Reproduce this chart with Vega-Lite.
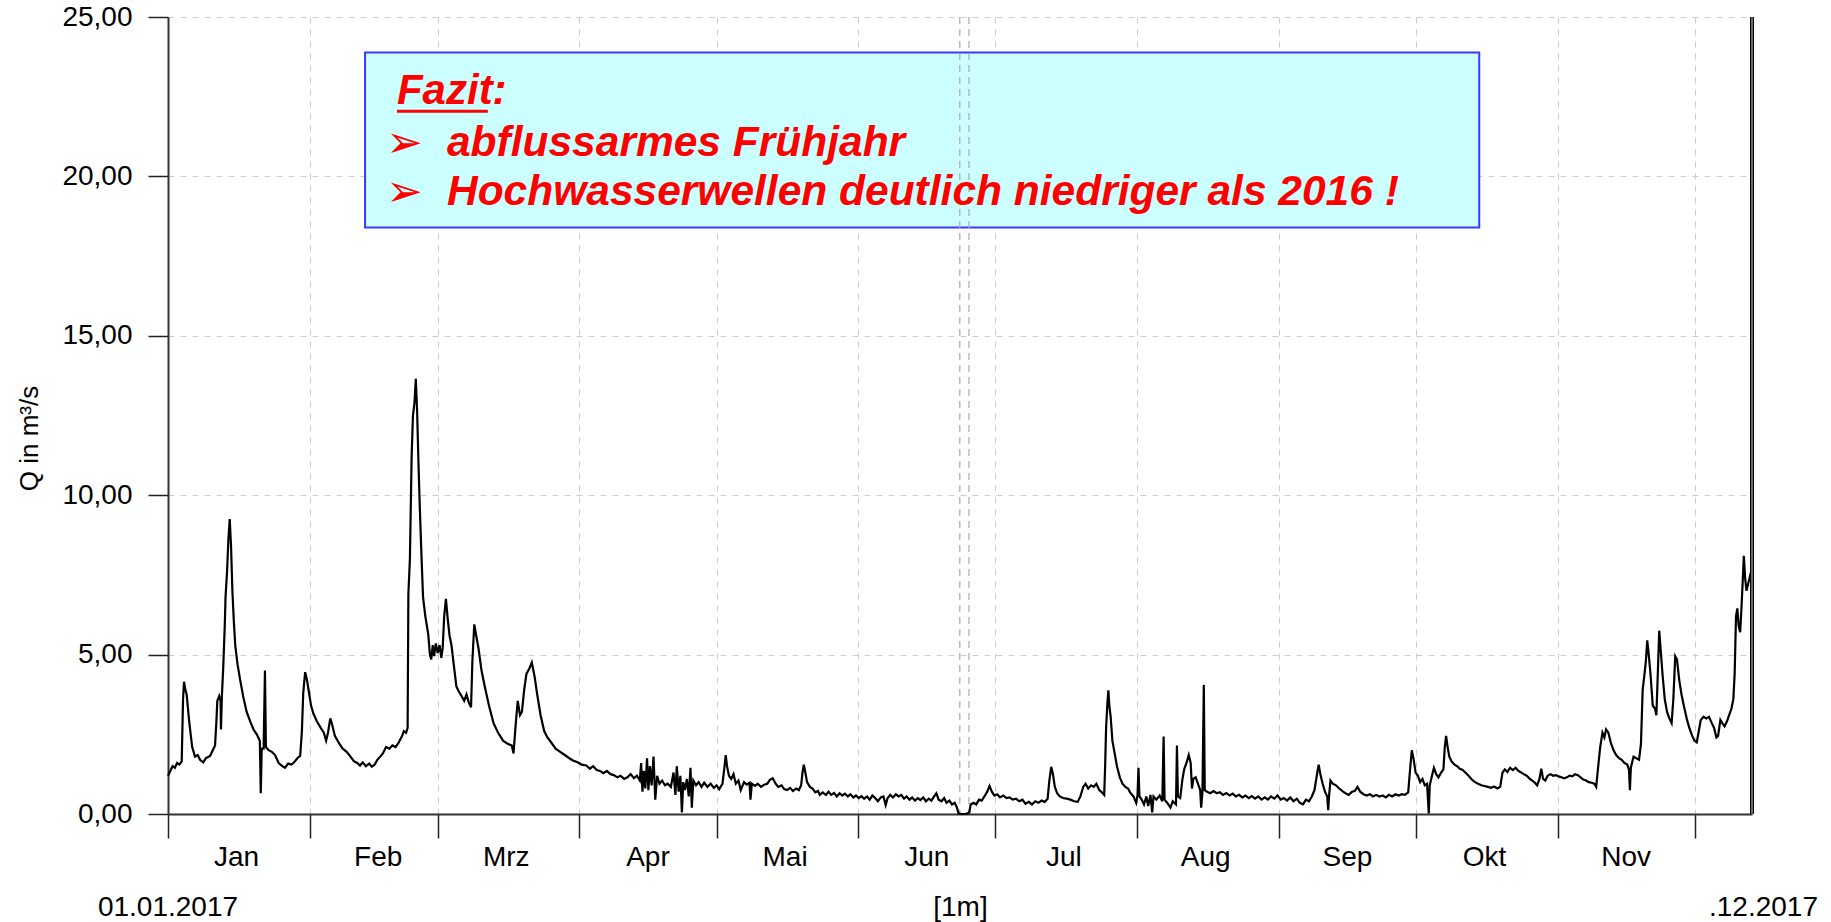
{
  "$schema": "https://vega.github.io/schema/vega-lite/v6.json",
  "width": 1584,
  "height": 797,
  "autosize": {"type": "none"},
  "padding": {"left": 168, "top": 17, "right": 79, "bottom": 108},
  "background": "white",
  "config": {"view": {"stroke": null}, "font": "Liberation Sans"},
  "datasets": {
    "q": [
      {"t":"2017-01-01T00:00","q":1.2},{"t":"2017-01-01T12:00","q":1.35},{"t":"2017-01-02T00:00","q":1.5},{"t":"2017-01-02T12:00","q":1.45},{"t":"2017-01-03T00:00","q":1.6},{"t":"2017-01-03T12:00","q":1.55},{"t":"2017-01-04T00:00","q":1.65},{"t":"2017-01-04T07:00","q":3.6},{"t":"2017-01-04T12:00","q":4.15},{"t":"2017-01-04T19:00","q":3.9},{"t":"2017-01-05T02:00","q":3.75},{"t":"2017-01-05T12:00","q":3.1},{"t":"2017-01-05T19:00","q":2.7},{"t":"2017-01-06T07:00","q":2.1},{"t":"2017-01-06T22:00","q":1.8},{"t":"2017-01-07T12:00","q":1.85},{"t":"2017-01-08T00:00","q":1.7},{"t":"2017-01-08T17:00","q":1.62},{"t":"2017-01-09T07:00","q":1.75},{"t":"2017-01-10T05:00","q":1.82},{"t":"2017-01-10T19:00","q":2.0},{"t":"2017-01-11T07:00","q":2.15},{"t":"2017-01-11T14:00","q":2.9},{"t":"2017-01-11T19:00","q":3.55},{"t":"2017-01-12T05:00","q":3.7},{"t":"2017-01-12T12:00","q":3.55},{"t":"2017-01-12T14:00","q":2.65},{"t":"2017-01-12T19:00","q":3.7},{"t":"2017-01-13T02:00","q":4.6},{"t":"2017-01-13T10:00","q":5.9},{"t":"2017-01-13T14:00","q":6.8},{"t":"2017-01-13T22:00","q":7.6},{"t":"2017-01-14T05:00","q":8.6},{"t":"2017-01-14T12:00","q":9.25},{"t":"2017-01-14T19:00","q":8.4},{"t":"2017-01-15T02:00","q":7.0},{"t":"2017-01-15T10:00","q":6.0},{"t":"2017-01-15T17:00","q":5.3},{"t":"2017-01-16T05:00","q":4.7},{"t":"2017-01-16T19:00","q":4.2},{"t":"2017-01-17T12:00","q":3.65},{"t":"2017-01-18T05:00","q":3.2},{"t":"2017-01-19T00:00","q":2.9},{"t":"2017-01-19T17:00","q":2.65},{"t":"2017-01-20T10:00","q":2.5},{"t":"2017-01-21T02:00","q":2.3},{"t":"2017-01-21T07:00","q":0.65},{"t":"2017-01-21T12:00","q":2.05},{"t":"2017-01-21T22:00","q":2.05},{"t":"2017-01-22T05:00","q":4.5},{"t":"2017-01-22T10:00","q":2.1},{"t":"2017-01-23T00:00","q":2.0},{"t":"2017-01-23T17:00","q":1.95},{"t":"2017-01-24T10:00","q":1.85},{"t":"2017-01-25T05:00","q":1.6},{"t":"2017-01-26T00:00","q":1.5},{"t":"2017-01-26T14:00","q":1.45},{"t":"2017-01-27T07:00","q":1.58},{"t":"2017-01-28T00:00","q":1.55},{"t":"2017-01-28T14:00","q":1.62},{"t":"2017-01-29T07:00","q":1.75},{"t":"2017-01-29T22:00","q":1.82},{"t":"2017-01-30T07:00","q":2.6},{"t":"2017-01-30T14:00","q":3.8},{"t":"2017-01-31T00:00","q":4.45},{"t":"2017-01-31T10:00","q":4.2},{"t":"2017-01-31T19:00","q":3.85},
      {"t":"2017-02-01T07:00","q":3.4},{"t":"2017-02-01T19:00","q":3.15},{"t":"2017-02-02T14:00","q":2.9},{"t":"2017-02-03T10:00","q":2.7},{"t":"2017-02-04T02:00","q":2.55},{"t":"2017-02-04T14:00","q":2.3},{"t":"2017-02-05T00:00","q":2.55},{"t":"2017-02-05T12:00","q":3.0},{"t":"2017-02-05T22:00","q":2.8},{"t":"2017-02-06T12:00","q":2.45},{"t":"2017-02-07T07:00","q":2.25},{"t":"2017-02-08T05:00","q":2.05},{"t":"2017-02-09T02:00","q":1.95},{"t":"2017-02-09T22:00","q":1.8},{"t":"2017-02-10T17:00","q":1.65},{"t":"2017-02-11T10:00","q":1.6},{"t":"2017-02-12T00:00","q":1.52},{"t":"2017-02-12T14:00","q":1.62},{"t":"2017-02-13T07:00","q":1.5},{"t":"2017-02-14T00:00","q":1.58},{"t":"2017-02-14T14:00","q":1.48},{"t":"2017-02-15T05:00","q":1.55},{"t":"2017-02-15T19:00","q":1.7},{"t":"2017-02-16T10:00","q":1.8},{"t":"2017-02-17T00:00","q":1.9},{"t":"2017-02-17T17:00","q":2.1},{"t":"2017-02-18T10:00","q":2.05},{"t":"2017-02-19T02:00","q":2.15},{"t":"2017-02-19T19:00","q":2.1},{"t":"2017-02-20T12:00","q":2.25},{"t":"2017-02-21T05:00","q":2.45},{"t":"2017-02-21T14:00","q":2.6},{"t":"2017-02-22T02:00","q":2.55},{"t":"2017-02-22T10:00","q":2.7},{"t":"2017-02-22T14:00","q":6.9},{"t":"2017-02-22T22:00","q":8.0},{"t":"2017-02-23T07:00","q":11.2},{"t":"2017-02-23T14:00","q":12.5},{"t":"2017-02-23T22:00","q":12.9},{"t":"2017-02-24T05:00","q":13.65},{"t":"2017-02-24T12:00","q":12.6},{"t":"2017-02-24T19:00","q":11.0},{"t":"2017-02-25T02:00","q":9.6},{"t":"2017-02-25T12:00","q":7.9},{"t":"2017-02-25T19:00","q":6.8},{"t":"2017-02-26T07:00","q":6.2},{"t":"2017-02-26T22:00","q":5.65},{"t":"2017-02-27T07:00","q":5.0},{"t":"2017-02-27T14:00","q":4.85},{"t":"2017-02-27T22:00","q":5.3},{"t":"2017-02-28T05:00","q":4.95},{"t":"2017-02-28T14:00","q":5.35},
      {"t":"2017-03-01T00:00","q":5.05},{"t":"2017-03-01T10:00","q":5.3},{"t":"2017-03-01T19:00","q":4.9},{"t":"2017-03-02T02:00","q":5.2},{"t":"2017-03-02T10:00","q":6.2},{"t":"2017-03-02T19:00","q":6.75},{"t":"2017-03-03T05:00","q":6.1},{"t":"2017-03-03T14:00","q":5.6},{"t":"2017-03-04T00:00","q":5.3},{"t":"2017-03-04T14:00","q":4.6},{"t":"2017-03-05T02:00","q":4.0},{"t":"2017-03-05T14:00","q":3.85},{"t":"2017-03-06T05:00","q":3.7},{"t":"2017-03-06T19:00","q":3.55},{"t":"2017-03-07T07:00","q":3.75},{"t":"2017-03-07T19:00","q":3.5},{"t":"2017-03-08T07:00","q":3.35},{"t":"2017-03-08T14:00","q":4.8},{"t":"2017-03-09T00:00","q":5.95},{"t":"2017-03-09T10:00","q":5.6},{"t":"2017-03-09T22:00","q":5.2},{"t":"2017-03-10T14:00","q":4.5},{"t":"2017-03-11T07:00","q":4.0},{"t":"2017-03-12T05:00","q":3.4},{"t":"2017-03-13T05:00","q":2.85},{"t":"2017-03-14T05:00","q":2.55},{"t":"2017-03-15T07:00","q":2.3},{"t":"2017-03-16T07:00","q":2.2},{"t":"2017-03-17T05:00","q":2.15},{"t":"2017-03-17T14:00","q":1.9},{"t":"2017-03-18T00:00","q":2.7},{"t":"2017-03-18T12:00","q":3.55},{"t":"2017-03-19T00:00","q":3.1},{"t":"2017-03-19T10:00","q":3.2},{"t":"2017-03-19T22:00","q":3.9},{"t":"2017-03-20T10:00","q":4.4},{"t":"2017-03-21T00:00","q":4.55},{"t":"2017-03-21T14:00","q":4.75},{"t":"2017-03-22T05:00","q":4.3},{"t":"2017-03-22T17:00","q":3.8},{"t":"2017-03-23T12:00","q":3.1},{"t":"2017-03-24T07:00","q":2.6},{"t":"2017-03-25T00:00","q":2.4},{"t":"2017-03-25T19:00","q":2.25},{"t":"2017-03-26T19:00","q":2.05},{"t":"2017-03-27T19:00","q":1.95},{"t":"2017-03-28T19:00","q":1.85},{"t":"2017-03-29T19:00","q":1.75},{"t":"2017-03-30T14:00","q":1.68},{"t":"2017-03-31T14:00","q":1.62},
      {"t":"2017-04-01T12:00","q":1.55},{"t":"2017-04-02T12:00","q":1.52},{"t":"2017-04-03T07:00","q":1.42},{"t":"2017-04-04T00:00","q":1.5},{"t":"2017-04-04T19:00","q":1.38},{"t":"2017-04-05T12:00","q":1.35},{"t":"2017-04-06T05:00","q":1.28},{"t":"2017-04-07T00:00","q":1.35},{"t":"2017-04-07T19:00","q":1.25},{"t":"2017-04-08T12:00","q":1.22},{"t":"2017-04-09T07:00","q":1.15},{"t":"2017-04-10T00:00","q":1.2},{"t":"2017-04-10T19:00","q":1.1},{"t":"2017-04-11T12:00","q":1.15},{"t":"2017-04-12T05:00","q":1.25},{"t":"2017-04-12T22:00","q":1.12},{"t":"2017-04-13T14:00","q":1.2},{"t":"2017-04-14T05:00","q":1.05},{"t":"2017-04-14T12:00","q":1.6},{"t":"2017-04-14T19:00","q":0.7},{"t":"2017-04-15T02:00","q":1.35},{"t":"2017-04-15T10:00","q":0.8},{"t":"2017-04-15T19:00","q":1.75},{"t":"2017-04-16T02:00","q":0.75},{"t":"2017-04-16T10:00","q":1.5},{"t":"2017-04-16T19:00","q":0.9},{"t":"2017-04-17T05:00","q":1.8},{"t":"2017-04-17T14:00","q":0.45},{"t":"2017-04-18T00:00","q":1.2},{"t":"2017-04-18T12:00","q":0.95},{"t":"2017-04-19T02:00","q":1.05},{"t":"2017-04-19T17:00","q":0.9},{"t":"2017-04-20T07:00","q":0.95},{"t":"2017-04-21T00:00","q":0.85},{"t":"2017-04-21T14:00","q":1.3},{"t":"2017-04-22T00:00","q":0.6},{"t":"2017-04-22T07:00","q":1.5},{"t":"2017-04-22T17:00","q":0.7},{"t":"2017-04-23T02:00","q":1.2},{"t":"2017-04-23T10:00","q":0.05},{"t":"2017-04-23T17:00","q":1.0},{"t":"2017-04-24T02:00","q":0.75},{"t":"2017-04-24T12:00","q":1.1},{"t":"2017-04-24T22:00","q":0.55},{"t":"2017-04-25T07:00","q":1.45},{"t":"2017-04-25T14:00","q":0.2},{"t":"2017-04-25T22:00","q":1.05},{"t":"2017-04-26T12:00","q":0.9},{"t":"2017-04-27T02:00","q":1.0},{"t":"2017-04-27T17:00","q":0.85},{"t":"2017-04-28T07:00","q":0.98},{"t":"2017-04-29T00:00","q":0.85},{"t":"2017-04-29T17:00","q":0.95},{"t":"2017-04-30T10:00","q":0.82},
      {"t":"2017-05-01T00:00","q":0.9},{"t":"2017-05-01T14:00","q":0.78},{"t":"2017-05-02T07:00","q":0.95},{"t":"2017-05-02T17:00","q":1.45},{"t":"2017-05-03T00:00","q":1.85},{"t":"2017-05-03T07:00","q":1.5},{"t":"2017-05-03T17:00","q":1.2},{"t":"2017-05-04T05:00","q":1.1},{"t":"2017-05-04T17:00","q":1.25},{"t":"2017-05-05T05:00","q":0.95},{"t":"2017-05-05T19:00","q":1.05},{"t":"2017-05-06T07:00","q":0.75},{"t":"2017-05-07T00:00","q":1.0},{"t":"2017-05-07T14:00","q":0.92},{"t":"2017-05-08T05:00","q":0.98},{"t":"2017-05-08T10:00","q":0.45},{"t":"2017-05-08T17:00","q":0.95},{"t":"2017-05-09T10:00","q":0.88},{"t":"2017-05-10T00:00","q":0.95},{"t":"2017-05-10T17:00","q":0.85},{"t":"2017-05-11T10:00","q":0.92},{"t":"2017-05-12T02:00","q":0.95},{"t":"2017-05-12T17:00","q":1.08},{"t":"2017-05-13T07:00","q":1.12},{"t":"2017-05-13T22:00","q":0.95},{"t":"2017-05-14T12:00","q":0.85},{"t":"2017-05-15T05:00","q":0.9},{"t":"2017-05-15T19:00","q":0.78},{"t":"2017-05-16T10:00","q":0.75},{"t":"2017-05-17T02:00","q":0.82},{"t":"2017-05-17T17:00","q":0.72},{"t":"2017-05-18T10:00","q":0.8},{"t":"2017-05-19T00:00","q":0.75},{"t":"2017-05-19T12:00","q":0.9},{"t":"2017-05-19T19:00","q":1.3},{"t":"2017-05-20T02:00","q":1.55},{"t":"2017-05-20T10:00","q":1.3},{"t":"2017-05-20T19:00","q":1.0},{"t":"2017-05-21T10:00","q":0.85},{"t":"2017-05-22T00:00","q":0.8},{"t":"2017-05-22T14:00","q":0.68},{"t":"2017-05-23T05:00","q":0.72},{"t":"2017-05-23T14:00","q":0.6},{"t":"2017-05-24T05:00","q":0.68},{"t":"2017-05-24T22:00","q":0.6},{"t":"2017-05-25T12:00","q":0.7},{"t":"2017-05-26T02:00","q":0.6},{"t":"2017-05-26T17:00","q":0.66},{"t":"2017-05-27T07:00","q":0.55},{"t":"2017-05-27T22:00","q":0.65},{"t":"2017-05-28T12:00","q":0.58},{"t":"2017-05-29T02:00","q":0.64},{"t":"2017-05-29T17:00","q":0.55},{"t":"2017-05-30T07:00","q":0.62},{"t":"2017-05-30T22:00","q":0.52},{"t":"2017-05-31T12:00","q":0.58},
      {"t":"2017-06-01T02:00","q":0.5},{"t":"2017-06-01T17:00","q":0.56},{"t":"2017-06-02T07:00","q":0.48},{"t":"2017-06-02T22:00","q":0.55},{"t":"2017-06-03T12:00","q":0.45},{"t":"2017-06-04T02:00","q":0.58},{"t":"2017-06-04T17:00","q":0.5},{"t":"2017-06-05T07:00","q":0.4},{"t":"2017-06-05T22:00","q":0.52},{"t":"2017-06-06T12:00","q":0.55},{"t":"2017-06-07T00:00","q":0.28},{"t":"2017-06-07T10:00","q":0.5},{"t":"2017-06-08T00:00","q":0.6},{"t":"2017-06-08T14:00","q":0.52},{"t":"2017-06-09T05:00","q":0.62},{"t":"2017-06-09T19:00","q":0.55},{"t":"2017-06-10T10:00","q":0.6},{"t":"2017-06-11T00:00","q":0.48},{"t":"2017-06-11T14:00","q":0.55},{"t":"2017-06-12T05:00","q":0.45},{"t":"2017-06-12T19:00","q":0.52},{"t":"2017-06-13T10:00","q":0.42},{"t":"2017-06-14T00:00","q":0.5},{"t":"2017-06-14T14:00","q":0.44},{"t":"2017-06-15T05:00","q":0.52},{"t":"2017-06-15T19:00","q":0.4},{"t":"2017-06-16T10:00","q":0.48},{"t":"2017-06-17T00:00","q":0.42},{"t":"2017-06-17T14:00","q":0.55},{"t":"2017-06-18T02:00","q":0.65},{"t":"2017-06-18T14:00","q":0.45},{"t":"2017-06-19T05:00","q":0.4},{"t":"2017-06-19T19:00","q":0.5},{"t":"2017-06-20T07:00","q":0.35},{"t":"2017-06-20T22:00","q":0.42},{"t":"2017-06-21T12:00","q":0.3},{"t":"2017-06-22T02:00","q":0.35},{"t":"2017-06-22T14:00","q":0.2},{"t":"2017-06-22T22:00","q":0.02},{"t":"2017-06-23T12:00","q":0.0},{"t":"2017-06-24T12:00","q":0.0},{"t":"2017-06-25T07:00","q":0.05},{"t":"2017-06-25T14:00","q":0.3},{"t":"2017-06-26T05:00","q":0.35},{"t":"2017-06-26T19:00","q":0.3},{"t":"2017-06-27T10:00","q":0.45},{"t":"2017-06-28T00:00","q":0.42},{"t":"2017-06-28T14:00","q":0.55},{"t":"2017-06-29T05:00","q":0.7},{"t":"2017-06-29T17:00","q":0.88},{"t":"2017-06-30T05:00","q":0.7},{"t":"2017-06-30T19:00","q":0.58},
      {"t":"2017-07-01T10:00","q":0.62},{"t":"2017-07-02T00:00","q":0.52},{"t":"2017-07-02T17:00","q":0.58},{"t":"2017-07-03T10:00","q":0.5},{"t":"2017-07-04T02:00","q":0.52},{"t":"2017-07-04T19:00","q":0.45},{"t":"2017-07-05T12:00","q":0.48},{"t":"2017-07-06T05:00","q":0.4},{"t":"2017-07-06T22:00","q":0.45},{"t":"2017-07-07T14:00","q":0.32},{"t":"2017-07-08T07:00","q":0.38},{"t":"2017-07-09T00:00","q":0.3},{"t":"2017-07-09T17:00","q":0.4},{"t":"2017-07-10T10:00","q":0.35},{"t":"2017-07-11T02:00","q":0.42},{"t":"2017-07-11T19:00","q":0.38},{"t":"2017-07-12T10:00","q":0.48},{"t":"2017-07-12T19:00","q":1.05},{"t":"2017-07-13T05:00","q":1.48},{"t":"2017-07-13T14:00","q":1.25},{"t":"2017-07-14T00:00","q":0.85},{"t":"2017-07-14T12:00","q":0.65},{"t":"2017-07-15T02:00","q":0.55},{"t":"2017-07-15T19:00","q":0.5},{"t":"2017-07-16T14:00","q":0.48},{"t":"2017-07-17T10:00","q":0.45},{"t":"2017-07-18T05:00","q":0.4},{"t":"2017-07-19T00:00","q":0.38},{"t":"2017-07-19T14:00","q":0.55},{"t":"2017-07-20T05:00","q":0.85},{"t":"2017-07-20T17:00","q":0.95},{"t":"2017-07-21T07:00","q":0.8},{"t":"2017-07-21T22:00","q":0.9},{"t":"2017-07-22T12:00","q":0.85},{"t":"2017-07-23T02:00","q":0.95},{"t":"2017-07-23T17:00","q":0.75},{"t":"2017-07-24T07:00","q":0.68},{"t":"2017-07-24T19:00","q":0.6},{"t":"2017-07-25T00:00","q":1.5},{"t":"2017-07-25T05:00","q":2.7},{"t":"2017-07-25T12:00","q":3.5},{"t":"2017-07-25T17:00","q":3.88},{"t":"2017-07-25T22:00","q":3.4},{"t":"2017-07-26T05:00","q":3.05},{"t":"2017-07-26T14:00","q":2.3},{"t":"2017-07-27T02:00","q":1.9},{"t":"2017-07-27T14:00","q":1.5},{"t":"2017-07-28T05:00","q":1.15},{"t":"2017-07-28T19:00","q":0.95},{"t":"2017-07-29T10:00","q":0.85},{"t":"2017-07-30T00:00","q":0.8},{"t":"2017-07-30T14:00","q":0.65},{"t":"2017-07-31T05:00","q":0.55},{"t":"2017-07-31T19:00","q":0.35},
      {"t":"2017-08-01T02:00","q":0.6},{"t":"2017-08-01T07:00","q":1.45},{"t":"2017-08-01T12:00","q":0.55},{"t":"2017-08-02T00:00","q":0.45},{"t":"2017-08-02T12:00","q":0.3},{"t":"2017-08-03T00:00","q":0.55},{"t":"2017-08-03T10:00","q":0.25},{"t":"2017-08-03T22:00","q":0.6},{"t":"2017-08-04T07:00","q":0.05},{"t":"2017-08-04T14:00","q":0.55},{"t":"2017-08-05T05:00","q":0.45},{"t":"2017-08-05T22:00","q":0.58},{"t":"2017-08-06T12:00","q":0.4},{"t":"2017-08-06T19:00","q":2.43},{"t":"2017-08-07T00:00","q":0.45},{"t":"2017-08-07T14:00","q":0.35},{"t":"2017-08-08T07:00","q":0.2},{"t":"2017-08-08T19:00","q":0.4},{"t":"2017-08-09T12:00","q":0.3},{"t":"2017-08-09T17:00","q":2.15},{"t":"2017-08-09T22:00","q":0.55},{"t":"2017-08-10T10:00","q":0.5},{"t":"2017-08-10T22:00","q":1.1},{"t":"2017-08-11T07:00","q":1.4},{"t":"2017-08-11T19:00","q":1.6},{"t":"2017-08-12T07:00","q":1.85},{"t":"2017-08-12T17:00","q":1.6},{"t":"2017-08-13T00:00","q":0.8},{"t":"2017-08-13T07:00","q":1.1},{"t":"2017-08-13T19:00","q":1.15},{"t":"2017-08-14T07:00","q":0.95},{"t":"2017-08-14T19:00","q":0.75},{"t":"2017-08-15T00:00","q":0.2},{"t":"2017-08-15T07:00","q":0.7},{"t":"2017-08-15T14:00","q":4.05},{"t":"2017-08-15T19:00","q":0.75},{"t":"2017-08-16T07:00","q":0.7},{"t":"2017-08-17T00:00","q":0.65},{"t":"2017-08-17T17:00","q":0.72},{"t":"2017-08-18T10:00","q":0.65},{"t":"2017-08-19T02:00","q":0.68},{"t":"2017-08-19T19:00","q":0.6},{"t":"2017-08-20T12:00","q":0.66},{"t":"2017-08-21T05:00","q":0.58},{"t":"2017-08-21T22:00","q":0.64},{"t":"2017-08-22T14:00","q":0.55},{"t":"2017-08-23T07:00","q":0.6},{"t":"2017-08-24T00:00","q":0.52},{"t":"2017-08-24T17:00","q":0.58},{"t":"2017-08-25T10:00","q":0.5},{"t":"2017-08-26T02:00","q":0.56},{"t":"2017-08-26T19:00","q":0.48},{"t":"2017-08-27T12:00","q":0.55},{"t":"2017-08-28T05:00","q":0.45},{"t":"2017-08-28T22:00","q":0.52},{"t":"2017-08-29T14:00","q":0.45},{"t":"2017-08-30T07:00","q":0.55},{"t":"2017-08-31T00:00","q":0.48},{"t":"2017-08-31T17:00","q":0.58},
      {"t":"2017-09-01T10:00","q":0.45},{"t":"2017-09-02T02:00","q":0.5},{"t":"2017-09-02T19:00","q":0.42},{"t":"2017-09-03T12:00","q":0.52},{"t":"2017-09-04T05:00","q":0.4},{"t":"2017-09-04T22:00","q":0.48},{"t":"2017-09-05T14:00","q":0.35},{"t":"2017-09-06T07:00","q":0.3},{"t":"2017-09-06T22:00","q":0.45},{"t":"2017-09-07T14:00","q":0.4},{"t":"2017-09-08T05:00","q":0.55},{"t":"2017-09-08T19:00","q":0.75},{"t":"2017-09-09T07:00","q":1.2},{"t":"2017-09-09T17:00","q":1.55},{"t":"2017-09-10T02:00","q":1.25},{"t":"2017-09-10T14:00","q":0.95},{"t":"2017-09-11T02:00","q":0.7},{"t":"2017-09-11T14:00","q":0.55},{"t":"2017-09-11T19:00","q":0.12},{"t":"2017-09-12T00:00","q":0.6},{"t":"2017-09-12T07:00","q":1.05},{"t":"2017-09-12T19:00","q":0.95},{"t":"2017-09-13T12:00","q":0.9},{"t":"2017-09-14T05:00","q":0.8},{"t":"2017-09-14T22:00","q":0.72},{"t":"2017-09-15T14:00","q":0.65},{"t":"2017-09-16T07:00","q":0.6},{"t":"2017-09-17T00:00","q":0.7},{"t":"2017-09-17T14:00","q":0.72},{"t":"2017-09-18T05:00","q":0.85},{"t":"2017-09-18T19:00","q":0.7},{"t":"2017-09-19T12:00","q":0.62},{"t":"2017-09-20T05:00","q":0.58},{"t":"2017-09-20T22:00","q":0.62},{"t":"2017-09-21T14:00","q":0.55},{"t":"2017-09-22T07:00","q":0.6},{"t":"2017-09-23T00:00","q":0.55},{"t":"2017-09-23T17:00","q":0.58},{"t":"2017-09-24T10:00","q":0.52},{"t":"2017-09-25T02:00","q":0.6},{"t":"2017-09-25T19:00","q":0.55},{"t":"2017-09-26T12:00","q":0.62},{"t":"2017-09-27T05:00","q":0.58},{"t":"2017-09-27T22:00","q":0.62},{"t":"2017-09-28T14:00","q":0.6},{"t":"2017-09-29T07:00","q":0.68},{"t":"2017-09-29T17:00","q":1.4},{"t":"2017-09-30T02:00","q":2.0},{"t":"2017-09-30T12:00","q":1.7},{"t":"2017-09-30T22:00","q":1.3},
      {"t":"2017-10-01T10:00","q":1.2},{"t":"2017-10-01T22:00","q":1.0},{"t":"2017-10-02T10:00","q":1.1},{"t":"2017-10-02T22:00","q":0.9},{"t":"2017-10-03T10:00","q":0.95},{"t":"2017-10-03T19:00","q":0.02},{"t":"2017-10-04T00:00","q":0.9},{"t":"2017-10-04T12:00","q":1.2},{"t":"2017-10-04T22:00","q":1.45},{"t":"2017-10-05T10:00","q":1.25},{"t":"2017-10-05T22:00","q":1.15},{"t":"2017-10-06T12:00","q":1.3},{"t":"2017-10-07T00:00","q":1.4},{"t":"2017-10-07T07:00","q":2.1},{"t":"2017-10-07T14:00","q":2.45},{"t":"2017-10-07T22:00","q":2.1},{"t":"2017-10-08T07:00","q":1.8},{"t":"2017-10-08T19:00","q":1.65},{"t":"2017-10-09T10:00","q":1.55},{"t":"2017-10-10T00:00","q":1.5},{"t":"2017-10-10T14:00","q":1.42},{"t":"2017-10-11T05:00","q":1.38},{"t":"2017-10-11T19:00","q":1.3},{"t":"2017-10-12T12:00","q":1.2},{"t":"2017-10-13T05:00","q":1.08},{"t":"2017-10-13T22:00","q":1.0},{"t":"2017-10-14T14:00","q":0.95},{"t":"2017-10-15T07:00","q":0.9},{"t":"2017-10-16T00:00","q":0.88},{"t":"2017-10-16T17:00","q":0.85},{"t":"2017-10-17T10:00","q":0.82},{"t":"2017-10-18T02:00","q":0.86},{"t":"2017-10-18T19:00","q":0.8},{"t":"2017-10-19T10:00","q":0.85},{"t":"2017-10-19T22:00","q":1.3},{"t":"2017-10-20T10:00","q":1.4},{"t":"2017-10-21T00:00","q":1.32},{"t":"2017-10-21T14:00","q":1.45},{"t":"2017-10-22T05:00","q":1.38},{"t":"2017-10-22T19:00","q":1.45},{"t":"2017-10-23T10:00","q":1.35},{"t":"2017-10-24T00:00","q":1.3},{"t":"2017-10-24T14:00","q":1.25},{"t":"2017-10-25T05:00","q":1.2},{"t":"2017-10-25T19:00","q":1.12},{"t":"2017-10-26T10:00","q":1.05},{"t":"2017-10-27T00:00","q":0.98},{"t":"2017-10-27T12:00","q":0.9},{"t":"2017-10-28T00:00","q":1.1},{"t":"2017-10-28T10:00","q":1.42},{"t":"2017-10-28T19:00","q":1.1},{"t":"2017-10-29T07:00","q":1.05},{"t":"2017-10-29T19:00","q":1.2},{"t":"2017-10-30T10:00","q":1.25},{"t":"2017-10-31T00:00","q":1.2},{"t":"2017-10-31T14:00","q":1.22},
      {"t":"2017-11-01T05:00","q":1.18},{"t":"2017-11-01T19:00","q":1.15},{"t":"2017-11-02T10:00","q":1.12},{"t":"2017-11-03T00:00","q":1.15},{"t":"2017-11-03T14:00","q":1.2},{"t":"2017-11-04T05:00","q":1.18},{"t":"2017-11-04T19:00","q":1.25},{"t":"2017-11-05T10:00","q":1.22},{"t":"2017-11-06T00:00","q":1.15},{"t":"2017-11-06T14:00","q":1.08},{"t":"2017-11-07T05:00","q":1.05},{"t":"2017-11-07T19:00","q":1.0},{"t":"2017-11-08T10:00","q":0.98},{"t":"2017-11-09T00:00","q":0.95},{"t":"2017-11-09T10:00","q":0.85},{"t":"2017-11-09T19:00","q":1.4},{"t":"2017-11-10T07:00","q":2.1},{"t":"2017-11-10T19:00","q":2.55},{"t":"2017-11-11T05:00","q":2.4},{"t":"2017-11-11T14:00","q":2.65},{"t":"2017-11-12T02:00","q":2.55},{"t":"2017-11-12T14:00","q":2.25},{"t":"2017-11-13T05:00","q":2.0},{"t":"2017-11-13T19:00","q":1.85},{"t":"2017-11-14T10:00","q":1.75},{"t":"2017-11-15T00:00","q":1.7},{"t":"2017-11-15T14:00","q":1.6},{"t":"2017-11-16T05:00","q":1.55},{"t":"2017-11-16T14:00","q":1.4},{"t":"2017-11-16T19:00","q":0.75},{"t":"2017-11-17T00:00","q":1.45},{"t":"2017-11-17T14:00","q":1.8},{"t":"2017-11-18T05:00","q":1.75},{"t":"2017-11-18T19:00","q":1.7},{"t":"2017-11-19T05:00","q":2.2},{"t":"2017-11-19T14:00","q":3.9},{"t":"2017-11-19T22:00","q":4.3},{"t":"2017-11-20T07:00","q":4.8},{"t":"2017-11-20T14:00","q":5.45},{"t":"2017-11-20T22:00","q":5.0},{"t":"2017-11-21T07:00","q":4.4},{"t":"2017-11-21T19:00","q":3.4},{"t":"2017-11-22T07:00","q":3.3},{"t":"2017-11-22T14:00","q":3.1},{"t":"2017-11-22T22:00","q":4.5},{"t":"2017-11-23T05:00","q":5.75},{"t":"2017-11-23T12:00","q":5.2},{"t":"2017-11-23T22:00","q":4.4},{"t":"2017-11-24T10:00","q":3.6},{"t":"2017-11-24T22:00","q":3.2},{"t":"2017-11-25T10:00","q":3.0},{"t":"2017-11-25T22:00","q":2.85},{"t":"2017-11-26T07:00","q":3.6},{"t":"2017-11-26T17:00","q":4.95},{"t":"2017-11-27T02:00","q":4.85},{"t":"2017-11-27T14:00","q":4.2},{"t":"2017-11-28T02:00","q":3.75},{"t":"2017-11-28T14:00","q":3.4},{"t":"2017-11-29T05:00","q":3.0},{"t":"2017-11-29T19:00","q":2.7},{"t":"2017-11-30T10:00","q":2.45},{"t":"2017-11-30T22:00","q":2.3},
      {"t":"2017-12-01T10:00","q":2.25},{"t":"2017-12-01T19:00","q":2.55},{"t":"2017-12-02T07:00","q":2.95},{"t":"2017-12-02T22:00","q":3.05},{"t":"2017-12-03T12:00","q":3.0},{"t":"2017-12-04T02:00","q":3.05},{"t":"2017-12-04T17:00","q":2.85},{"t":"2017-12-05T05:00","q":2.7},{"t":"2017-12-05T17:00","q":2.4},{"t":"2017-12-06T02:00","q":2.45},{"t":"2017-12-06T14:00","q":2.95},{"t":"2017-12-07T00:00","q":2.85},{"t":"2017-12-07T12:00","q":2.75},{"t":"2017-12-08T00:00","q":2.9},{"t":"2017-12-08T12:00","q":3.1},{"t":"2017-12-09T00:00","q":3.3},{"t":"2017-12-09T10:00","q":3.6},{"t":"2017-12-09T17:00","q":4.4},{"t":"2017-12-10T00:00","q":6.2},{"t":"2017-12-10T07:00","q":6.45},{"t":"2017-12-10T14:00","q":5.9},{"t":"2017-12-10T22:00","q":5.7},{"t":"2017-12-11T05:00","q":6.5},{"t":"2017-12-11T12:00","q":7.4},{"t":"2017-12-11T17:00","q":8.1},{"t":"2017-12-12T00:00","q":7.4},{"t":"2017-12-12T07:00","q":7.0},{"t":"2017-12-12T19:00","q":7.3},{"t":"2017-12-13T07:00","q":7.6}
    ],
    "box": [{"t":"2017-02-13T02:30","t2":"2017-10-14T20:00","q":23.89,"q2":18.4}],
    "underline": [{"t":"2017-02-20T02:00","t2":"2017-03-11T23:00","q":22.04}],
    "fazit": [{"t":"2017-02-20T02:00","q":22.26,"label":"Fazit:"}],
    "lines": [
      {"t":"2017-03-03T00:30","q":20.63,"label":"abflussarmes Frühjahr"},
      {"t":"2017-03-03T00:30","q":19.09,"label":"Hochwasserwellen deutlich niedriger als 2016 !"}
    ],
    "bullets": [
      {"t":"2017-02-17T17:00","q":20.6,"label":"➢"},
      {"t":"2017-02-17T17:00","q":19.06,"label":"➢"}
    ],
    "gaps": [{"t":"2017-06-23T05:00"},{"t":"2017-06-25T05:00"}],
    "endline": [{"t":"2017-12-13T12:00"}],
    "startdate": [{"t":"2017-01-01T00:00","q":-3.2,"label":"01.01.2017"}],
    "enddate": [{"t":"2017-12-13T12:00","q":-3.2,"label":".12.2017"}]
  },
  "layer": [
    {
      "data": {"name": "box"},
      "mark": {"type": "rect", "fill": "#ccffff", "stroke": "#3a3aff", "strokeWidth": 2},
      "encoding": {
        "x": {"field": "t", "type": "temporal"},
        "x2": {"field": "t2"},
        "y": {"field": "q", "type": "quantitative"},
        "y2": {"field": "q2"}
      }
    },
    {
      "data": {"name": "gaps"},
      "mark": {"type": "rule", "color": "#aaaaaa", "strokeWidth": 1.2, "strokeDash": [7, 5]},
      "encoding": {
        "x": {"field": "t", "type": "temporal"}
      }
    },
    {
      "data": {"name": "q"},
      "mark": {"type": "line", "color": "black", "strokeWidth": 2.2, "strokeJoin": "miter"},
      "encoding": {
        "x": {
          "field": "t", "type": "temporal",
          "scale": {"domain": [{"year": 2017, "month": 1, "date": 1}, {"year": 2017, "month": 12, "date": 13, "hours": 12}], "nice": false},
          "axis": {
            "title": "[1m]", "titleFontSize": 28, "titleFontWeight": "normal", "titleColor": "black", "titlePadding": 22,
            "values": [
              {"year": 2017, "month": 1, "date": 1}, {"year": 2017, "month": 2, "date": 1}, {"year": 2017, "month": 3, "date": 1},
              {"year": 2017, "month": 4, "date": 1}, {"year": 2017, "month": 5, "date": 1}, {"year": 2017, "month": 6, "date": 1},
              {"year": 2017, "month": 7, "date": 1}, {"year": 2017, "month": 8, "date": 1}, {"year": 2017, "month": 9, "date": 1},
              {"year": 2017, "month": 10, "date": 1}, {"year": 2017, "month": 11, "date": 1}, {"year": 2017, "month": 12, "date": 1}
            ],
            "labelExpr": "['Jan','Feb','Mrz','Apr','Mai','Jun','Jul','Aug','Sep','Okt','Nov',''][month(datum.value)]",
            "labelOffset": 68, "labelAlign": "center", "labelFontSize": 28, "labelColor": "black", "labelPadding": 5,
            "labelOverlap": false, "labelBound": false, "labelFlush": false,
            "tickSize": 24, "tickColor": "#222", "tickWidth": 1.5,
            "domainColor": "#333", "domainWidth": 2,
            "grid": true, "gridColor": "#cccccc", "gridDash": [6, 6], "gridWidth": 1
          }
        },
        "y": {
          "field": "q", "type": "quantitative",
          "scale": {"domain": [0, 25], "nice": false},
          "axis": {
            "title": "Q in m³/s", "titleFontSize": 26, "titleFontWeight": "normal", "titleColor": "black", "titlePadding": 19, "titleY": 421,
            "values": [0, 5, 10, 15, 20, 25],
            "labelExpr": "replace(format(datum.value, '.2f'), '.', ',')",
            "labelFontSize": 28, "labelColor": "black", "labelPadding": 16,
            "tickSize": 20, "tickColor": "#222", "tickWidth": 1.5,
            "domainColor": "#333", "domainWidth": 2,
            "grid": true, "gridColor": "#cccccc", "gridDash": [6, 6], "gridWidth": 1
          }
        }
      }
    },
    {
      "data": {"name": "underline"},
      "mark": {"type": "rule", "color": "#ff0000", "strokeWidth": 3},
      "encoding": {
        "x": {"field": "t", "type": "temporal"},
        "x2": {"field": "t2"},
        "y": {"field": "q", "type": "quantitative"}
      }
    },
    {
      "data": {"name": "fazit"},
      "mark": {"type": "text", "fontSize": 42, "fontWeight": "bold", "fontStyle": "italic", "color": "#ff0000", "align": "left", "baseline": "alphabetic"},
      "encoding": {
        "x": {"field": "t", "type": "temporal"},
        "y": {"field": "q", "type": "quantitative"},
        "text": {"field": "label"}
      }
    },
    {
      "data": {"name": "lines"},
      "mark": {"type": "text", "fontSize": 42.5, "fontWeight": "bold", "fontStyle": "italic", "color": "#ff0000", "align": "left", "baseline": "alphabetic"},
      "encoding": {
        "x": {"field": "t", "type": "temporal"},
        "y": {"field": "q", "type": "quantitative"},
        "text": {"field": "label"}
      }
    },
    {
      "data": {"name": "bullets"},
      "mark": {"type": "text", "font": "DejaVu Sans", "fontSize": 44, "color": "#ff0000", "align": "left", "baseline": "alphabetic"},
      "encoding": {
        "x": {"field": "t", "type": "temporal"},
        "y": {"field": "q", "type": "quantitative"},
        "text": {"field": "label"}
      }
    },
    {
      "data": {"name": "endline"},
      "mark": {"type": "rule", "color": "black", "strokeWidth": 4},
      "encoding": {
        "x": {"field": "t", "type": "temporal"}
      }
    },
    {
      "data": {"name": "endline"},
      "mark": {"type": "rule", "color": "#b0b0b0", "strokeWidth": 1.2},
      "encoding": {
        "x": {"field": "t", "type": "temporal"}
      }
    },
    {
      "data": {"name": "startdate"},
      "mark": {"type": "text", "fontSize": 28, "color": "black", "align": "center", "baseline": "alphabetic"},
      "encoding": {
        "x": {"field": "t", "type": "temporal"},
        "y": {"field": "q", "type": "quantitative"},
        "text": {"field": "label"}
      }
    },
    {
      "data": {"name": "enddate"},
      "mark": {"type": "text", "fontSize": 28, "color": "black", "align": "left", "baseline": "alphabetic", "dx": -43},
      "encoding": {
        "x": {"field": "t", "type": "temporal"},
        "y": {"field": "q", "type": "quantitative"},
        "text": {"field": "label"}
      }
    }
  ]
}
